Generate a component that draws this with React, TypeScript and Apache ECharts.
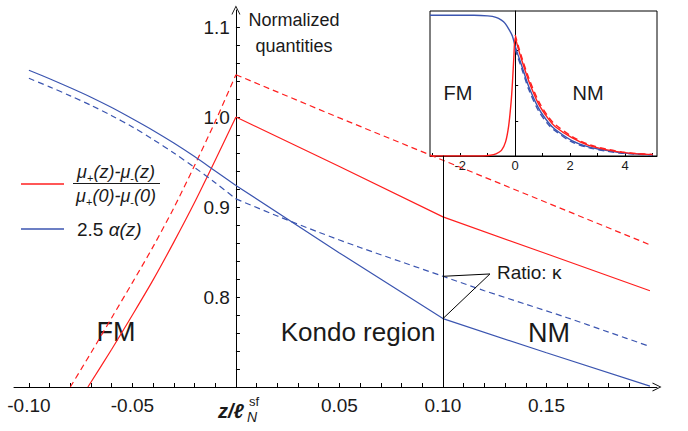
import React, { useEffect, useRef } from "react";
import * as echarts from "echarts";

// ---- main panel data (x = z / l_N^sf, y = normalized quantity) ----
// FM side (x <= 0) and NM side (x >= 0) kept separate so the kink at the interface stays sharp
const redSolidFM: [number, number][] = [
  [-0.0715, 0.70], [-0.06, 0.742], [-0.05, 0.780], [-0.04, 0.819], [-0.03, 0.861],
  [-0.02, 0.905], [-0.01, 0.952], [0, 1.0],
];
const redSolidNM: [number, number][] = [
  [0, 1.0], [0.05, 0.945], [0.10, 0.889], [0.15, 0.848], [0.20, 0.807],
];
const redDashedFM: [number, number][] = [
  [-0.080, 0.70], [-0.07, 0.738], [-0.06, 0.777], [-0.05, 0.816], [-0.04, 0.856],
  [-0.03, 0.899], [-0.02, 0.946], [-0.01, 0.995], [0, 1.047],
];
const redDashedNM: [number, number][] = [
  [0, 1.047], [0.05, 0.999], [0.10, 0.952], [0.15, 0.905], [0.20, 0.858],
];
const blueSolidFM: [number, number][] = [
  [-0.10, 1.052], [-0.09, 1.0425], [-0.08, 1.0325], [-0.07, 1.022], [-0.06, 1.0105],
  [-0.05, 0.998], [-0.04, 0.985], [-0.03, 0.971], [-0.02, 0.956], [-0.01, 0.940], [0, 0.924],
];
const blueSolidNM: [number, number][] = [
  [0, 0.924], [0.05, 0.849], [0.10, 0.776], [0.15, 0.738], [0.20, 0.701],
];
const blueDashedFM: [number, number][] = [
  [-0.10, 1.043], [-0.09, 1.0335], [-0.08, 1.0235], [-0.07, 1.013], [-0.06, 1.0015],
  [-0.05, 0.989], [-0.04, 0.975], [-0.03, 0.960], [-0.02, 0.944], [-0.01, 0.927], [0, 0.909],
];
const blueDashedNM: [number, number][] = [
  [0, 0.909], [0.02, 0.890], [0.04, 0.872], [0.06, 0.855], [0.08, 0.839],
  [0.10, 0.823], [0.12, 0.807], [0.14, 0.792], [0.16, 0.777], [0.18, 0.761], [0.20, 0.745],
];

const xLabels = [-0.10, -0.05, 0.05, 0.10, 0.15];
const xTicks = [
  -0.10, -0.09, -0.08, -0.07, -0.06, -0.05, -0.04, -0.03, -0.02, -0.01,
  0.01, 0.02, 0.03, 0.04, 0.05, 0.06, 0.07, 0.08, 0.09, 0.10,
  0.11, 0.12, 0.13, 0.14, 0.15, 0.16, 0.17, 0.18, 0.19,
];
const yLabels = [0.8, 0.9, 1.0, 1.1];
const yTicks = [
  0.72, 0.74, 0.76, 0.78, 0.80, 0.82, 0.84, 0.86, 0.88, 0.90,
  0.92, 0.94, 0.96, 0.98, 1.00, 1.02, 1.04, 1.06, 1.08, 1.10, 1.12,
];

// interface line and ratio annotation
const interfaceX = 0.10;
const interfaceLineTop = 0.957;
const ratioAnchor: [number, number] = [0.1227, 0.8256];
const ratioTargets = [0.823, 0.776];

// ---- inset data ----
const insetBlue: [number, number][] = [
  [-3.1, 1.0], [-1.5, 1.0], [-1.0, 0.995], [-0.7, 0.985], [-0.5, 0.965], [-0.36, 0.94],
  [-0.2, 0.89], [-0.1, 0.85], [0, 0.78], [0.1, 0.72], [0.24, 0.64], [0.5, 0.49],
  [0.85, 0.34], [1.2, 0.24], [1.45, 0.19], [2.06, 0.11], [2.67, 0.065], [3.3, 0.04],
  [3.88, 0.022], [4.5, 0.013], [5.0, 0.009],
];
const insetBlueDashed: [number, number][] = [
  [0, 0.76], [0.1, 0.70], [0.24, 0.62], [0.5, 0.47], [0.85, 0.32], [1.2, 0.225],
  [1.45, 0.18], [2.06, 0.10], [2.67, 0.06], [3.3, 0.035], [3.88, 0.02], [4.5, 0.012], [5.0, 0.008],
];
const insetRed: [number, number][] = [
  [-3.1, 0], [-1.2, 0.0], [-0.9, 0.005], [-0.7, 0.015], [-0.5, 0.04], [-0.35, 0.1],
  [-0.24, 0.21], [-0.15, 0.38], [-0.1, 0.52], [-0.05, 0.7], [0, 0.84], [0.1, 0.77],
  [0.24, 0.68], [0.5, 0.53], [0.85, 0.37], [1.2, 0.265], [1.45, 0.21], [2.06, 0.13],
  [2.67, 0.075], [3.3, 0.045], [3.88, 0.026], [4.5, 0.015], [5.0, 0.01],
];
const insetRedDashed: [number, number][] = [
  [0, 0.86], [0.1, 0.79], [0.24, 0.70], [0.5, 0.55], [0.85, 0.39], [1.2, 0.28],
  [1.45, 0.225], [2.06, 0.14], [2.67, 0.082], [3.3, 0.05], [3.88, 0.029], [4.5, 0.017], [5.0, 0.011],
];
const insetXLabels = [-2, 0, 2, 4];
const insetXTicks = [-3, -2, -1, 1, 2, 3, 4, 5];
const insetYTicks = [0.25, 0.5, 0.75];

const RED = "#ff1f1f";
const BLUE = "#3b55b0";
const FONT = "Liberation Sans, Arial, sans-serif";
const TXT = "#1a1a1a";
const CHEVRON = "path://M0,10 L5,0 L10,10 L9,10 L5,2 L1,10 Z";

// layout
const MAIN_LEFT = 14;
const MAIN_RIGHT = 31;
const X_MIN = -0.1072;
const X_MAX = 0.2034;
const INSET_LEFT = 430;
const INSET_RIGHT = 31;
const IX_MIN = -3.1;
const IX_MAX = 5.16;

function lineSeries(data: [number, number][], color: string, dashed: boolean, gi: number, width = 1.2, extra: any = {}) {
  return {
    type: "line",
    xAxisIndex: gi,
    yAxisIndex: gi,
    data,
    symbol: "none",
    showSymbol: false,
    lineStyle: { color, width, type: dashed ? [6, 4] : "solid" },
    silent: true,
    z: 3,
    ...extra,
  };
}

export default function App() {
  const ref = useRef<HTMLDivElement>(null);
  useEffect(() => {
    const chart = echarts.init(ref.current!, null, { renderer: "svg" });
    const W = 688;
    const mainWidth = W - MAIN_LEFT - MAIN_RIGHT;
    const yAxisOffset = -((0 - X_MIN) / (X_MAX - X_MIN)) * mainWidth;
    const insetWidth = W - INSET_LEFT - INSET_RIGHT;
    const insetYOffset = -((0 - IX_MIN) / (IX_MAX - IX_MIN)) * insetWidth;
    const option: any = {
      animation: false,
      backgroundColor: "#fff",
      textStyle: { fontFamily: FONT },
      grid: [
        { left: MAIN_LEFT, right: MAIN_RIGHT, top: 10, bottom: 44, containLabel: false },
        {
          left: INSET_LEFT, right: INSET_RIGHT, top: 11, bottom: 275, containLabel: false,
          show: true, borderColor: "#000", borderWidth: 1, backgroundColor: "#fff",
        },
      ],
      xAxis: [
        {
          gridIndex: 0, type: "value", min: X_MIN, max: X_MAX,
          axisLine: { show: true, onZero: false, lineStyle: { color: "#000", width: 1 }, symbol: ["none", CHEVRON], symbolSize: [9, 10] },
          axisTick: { show: true, inside: true, length: 4, customValues: xTicks, lineStyle: { color: "#000" } },
          axisLabel: { customValues: xLabels, formatter: (v: number) => v.toFixed(2), fontSize: 19, color: TXT, fontFamily: FONT, margin: 9 },
          splitLine: { show: false },
        },
        {
          gridIndex: 1, type: "value", min: IX_MIN, max: IX_MAX,
          axisLine: { show: true, onZero: false, lineStyle: { color: "#000", width: 1 } },
          axisTick: { show: true, inside: true, length: 3, customValues: insetXTicks, lineStyle: { color: "#000" } },
          axisLabel: { customValues: insetXLabels, fontSize: 13, color: TXT, fontFamily: FONT, margin: 3 },
          splitLine: { show: false },
        },
      ],
      yAxis: [
        {
          gridIndex: 0, type: "value", min: 0.7, max: 1.1189, position: "left", offset: yAxisOffset,
          axisLine: { show: true, onZero: false, lineStyle: { color: "#000", width: 1 }, symbol: ["none", CHEVRON], symbolSize: [9, 10] },
          axisTick: { show: true, inside: true, length: 4, customValues: yTicks, lineStyle: { color: "#000" } },
          axisLabel: { customValues: yLabels, formatter: (v: number) => v.toFixed(1), fontSize: 19, color: TXT, fontFamily: FONT, margin: 6 },
          splitLine: { show: false },
        },
        {
          gridIndex: 1, type: "value", min: 0, max: 1.03, position: "left", offset: insetYOffset,
          axisLine: { show: true, onZero: false, lineStyle: { color: "#000", width: 1 } },
          axisTick: { show: true, inside: true, length: 3, customValues: insetYTicks, lineStyle: { color: "#000" } },
          axisLabel: { show: false },
          splitLine: { show: false },
        },
      ],
      series: [
        lineSeries(redDashedFM, RED, true, 0, 1.2, { smooth: 0.3 }),
        lineSeries(redDashedNM, RED, true, 0),
        lineSeries(redSolidFM, RED, false, 0, 1.2, { smooth: 0.3 }),
        lineSeries(redSolidNM, RED, false, 0),
        lineSeries(blueDashedFM, BLUE, true, 0, 1.2, { smooth: 0.3 }),
        lineSeries(blueDashedNM, BLUE, true, 0, 1.2, { smooth: 0.3 }),
        lineSeries(blueSolidFM, BLUE, false, 0, 1.2, { smooth: 0.3 }),
        lineSeries(blueSolidNM, BLUE, false, 0, 1.2, {
          markLine: {
            silent: true,
            symbol: ["none", "none"],
            label: { show: false },
            lineStyle: { color: "#000", width: 1, type: "solid" },
            data: [
              [{ coord: [interfaceX, 0.7] }, { coord: [interfaceX, interfaceLineTop] }],
              [{ coord: ratioAnchor }, { coord: [interfaceX, ratioTargets[0]] }],
              [{ coord: ratioAnchor }, { coord: [interfaceX, ratioTargets[1]] }],
            ],
          },
        }),
        lineSeries(insetBlue, BLUE, false, 1, 1.4, { smooth: 0.3 }),
        lineSeries(insetBlueDashed, BLUE, true, 1, 1.4, { smooth: 0.3 }),
        lineSeries(insetRed, RED, false, 1, 1.4, { smooth: 0.3 }),
        lineSeries(insetRedDashed, RED, true, 1, 1.4, { smooth: 0.3 }),
      ],
      graphic: [
        { type: "text", x: 294, y: 20, style: { text: "Normalized", fontSize: 18, fontFamily: FONT, fill: TXT, textAlign: "center", textVerticalAlign: "middle" } },
        { type: "text", x: 294, y: 46, style: { text: "quantities", fontSize: 18, fontFamily: FONT, fill: TXT, textAlign: "center", textVerticalAlign: "middle" } },
        { type: "text", x: 116, y: 332, style: { text: "FM", fontSize: 27, fontFamily: FONT, fill: TXT, textAlign: "center", textVerticalAlign: "middle" } },
        { type: "text", x: 358, y: 332, style: { text: "Kondo region", fontSize: 26, fontFamily: FONT, fill: TXT, textAlign: "center", textVerticalAlign: "middle" } },
        { type: "text", x: 549, y: 333, style: { text: "NM", fontSize: 27, fontFamily: FONT, fill: TXT, textAlign: "center", textVerticalAlign: "middle" } },
        { type: "text", x: 497, y: 272, style: { text: "Ratio: κ", fontSize: 19, fontFamily: FONT, fill: TXT, textAlign: "left", textVerticalAlign: "middle" } },
        { type: "text", x: 458, y: 93, z: 10, style: { text: "FM", fontSize: 20, fontFamily: FONT, fill: TXT, textAlign: "center", textVerticalAlign: "middle" } },
        { type: "text", x: 588, y: 93, z: 10, style: { text: "NM", fontSize: 20, fontFamily: FONT, fill: TXT, textAlign: "center", textVerticalAlign: "middle" } },
        // x-axis title z / l_N^sf
        { type: "text", x: 231, y: 411, style: { text: "z/ℓ", fontSize: 20, fontStyle: "italic", fontWeight: "bold", fontFamily: FONT, fill: TXT, textAlign: "center", textVerticalAlign: "middle" } },
        { type: "text", x: 249, y: 401, style: { text: "sf", fontSize: 13, fontFamily: FONT, fill: TXT, textAlign: "left", textVerticalAlign: "middle" } },
        { type: "text", x: 247, y: 417, style: { text: "N", fontSize: 14, fontStyle: "italic", fontFamily: FONT, fill: TXT, textAlign: "left", textVerticalAlign: "middle" } },
        // legend
        { type: "line", shape: { x1: 21, y1: 184, x2: 64, y2: 184 }, style: { stroke: RED, lineWidth: 1.3 } },
        { type: "line", shape: { x1: 21, y1: 229, x2: 64, y2: 229 }, style: { stroke: BLUE, lineWidth: 1.3 } },
        {
          type: "text", x: 116, y: 172,
          style: {
            text: "{m|μ}{s|+}{m|(z)-μ}{s|-}{m|(z)}",
            textAlign: "center", textVerticalAlign: "middle", fill: TXT,
            rich: {
              m: { fontSize: 18, fontStyle: "italic", fontFamily: FONT, fill: TXT, lineHeight: 22 },
              s: { fontSize: 11, fontFamily: FONT, fill: TXT, verticalAlign: "bottom", lineHeight: 14 },
            },
          },
        },
        { type: "line", shape: { x1: 73, y1: 183.5, x2: 160, y2: 183.5 }, style: { stroke: TXT, lineWidth: 1 } },
        {
          type: "text", x: 116, y: 196,
          style: {
            text: "{m|μ}{s|+}{m|(0)-μ}{s|-}{m|(0)}",
            textAlign: "center", textVerticalAlign: "middle", fill: TXT,
            rich: {
              m: { fontSize: 18, fontStyle: "italic", fontFamily: FONT, fill: TXT, lineHeight: 22 },
              s: { fontSize: 11, fontFamily: FONT, fill: TXT, verticalAlign: "bottom", lineHeight: 14 },
            },
          },
        },
        {
          type: "text", x: 77, y: 229,
          style: {
            text: "{n|2.5 }{i|α(z)}",
            textAlign: "left", textVerticalAlign: "middle", fill: TXT,
            rich: {
              n: { fontSize: 19, fontFamily: FONT, fill: TXT },
              i: { fontSize: 19, fontStyle: "italic", fontFamily: FONT, fill: TXT },
            },
          },
        },
      ],
    };
    chart.setOption(option);
    return () => chart.dispose();
  }, []);
  return (
    <div
      ref={ref}
      style={{ position: "absolute", left: 0, top: 0, width: 688, height: 431, background: "#fff" }}
    />
  );
}
